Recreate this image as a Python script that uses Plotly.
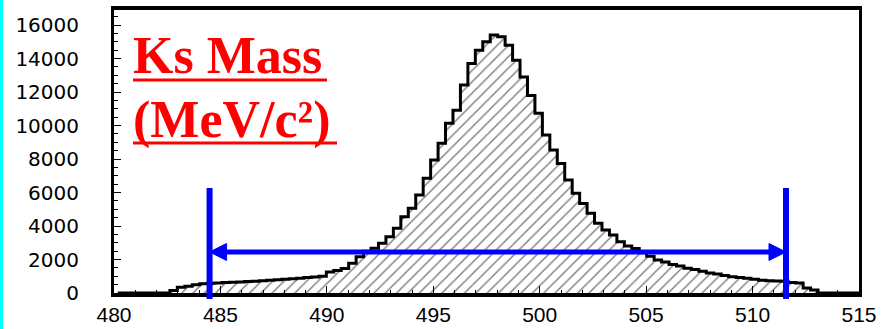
import plotly.graph_objects as go

# ---- data -------------------------------------------------------------
bin_width = 0.35
first_edge = 480.175
counts = [
    0, 0, 0, 0, 0, 0, 0, 150, 350, 400,            # 0-9
    500, 550, 580, 600, 620, 640, 660, 680, 700, 730,  # 10-19
    760, 790, 820, 850, 880, 920, 960, 1000, 1250, 1350,  # 20-29
    1470, 1770, 2170, 2500, 2670, 2970, 3360, 3860, 4560, 5060,  # 30-39
    5850, 6850, 7940, 8940, 10130, 10920, 12420, 13710, 14500, 15000,  # 40-49
    15400, 15300, 14800, 13900, 12900, 11800, 10730, 9430, 8540, 7740,  # 50-59
    6750, 5950, 5350, 4760, 4160, 3760, 3460, 3060, 2800, 2650,  # 60-69
    2400, 2200, 1970, 1850, 1700, 1610, 1480, 1410, 1300, 1200,  # 70-79
    1130, 1050, 970, 930, 880, 820, 760, 735, 720, 700,  # 80-89
    620, 600, 300, 180, 0, 0, 0, 0, 0, 0,  # 90-99
]
x_ticks = [480, 485, 490, 495, 500, 505, 510, 515]
y_ticks = [0, 2000, 4000, 6000, 8000, 10000, 12000, 14000, 16000]
cut_low = 484.49
cut_high = 511.57
arrow_level = 2450
cut_top = 6270
y_max = 16900

edges = [first_edge + bin_width * i for i in range(len(counts) + 1)]
xs = edges
ys = counts + [counts[-1]]

# ---- layout geometry (pixels) -----------------------------------------
W, H = 882, 329
L, R, T, B = 114, 859, 10, 293
PW, PH = R - L, B - T


def px(x):
    return (x - L) / PW


def py(y):
    return (B - y) / PH


# arrow head size in data units (17 px long, 17 px tall)
head_len = 17 * (515 - 480) / PW
head_half = 8.5 * y_max / PH

fig = go.Figure()
fig.add_trace(go.Scatter(
    x=xs, y=ys, mode="lines", line=dict(shape="hv", color="black", width=3),
    fill="tozeroy", fillcolor="white",
    fillpattern=dict(shape="/", fgcolor="black", bgcolor="white", size=8, solidity=0.18),
    hoverinfo="skip", showlegend=False,
))

BLUE = "#0000ff"
shapes = []
# blue cut lines
for c in (cut_low, cut_high):
    shapes.append(dict(type="line", xref="x", yref="paper", x0=c, x1=c,
                       y0=py(299), y1=cut_top / y_max, line=dict(color=BLUE, width=6)))
# horizontal bar
shapes.append(dict(type="line", xref="x", yref="y", x0=cut_low + head_len * 0.5,
                   x1=cut_high - head_len * 0.5, y0=arrow_level, y1=arrow_level,
                   line=dict(color=BLUE, width=5)))
# arrow heads (pointing outward, tips on the cut lines)
for tip, d in ((cut_low, 1), (cut_high, -1)):
    base = tip + d * head_len
    shapes.append(dict(type="path", xref="x", yref="y",
                       path=f"M {tip} {arrow_level} L {base} {arrow_level + head_half} "
                            f"L {base} {arrow_level - head_half} Z",
                       fillcolor=BLUE, line=dict(color=BLUE, width=1)))
# underlines for the title text
shapes.append(dict(type="line", xref="paper", yref="paper", x0=px(133), x1=px(327),
                   y0=py(80), y1=py(80), line=dict(color="#ff0000", width=3)))
shapes.append(dict(type="line", xref="paper", yref="paper", x0=px(133), x1=px(337),
                   y0=py(143), y1=py(143), line=dict(color="#ff0000", width=3)))
# cyan strip on the left edge
shapes.append(dict(type="rect", xref="paper", yref="paper", x0=px(0), x1=px(3),
                   y0=py(H), y1=py(0), line=dict(width=0), fillcolor="#00ffff"))

annotations = [
    dict(x=px(131), y=py(55), xref="paper", yref="paper", xanchor="left", yanchor="middle",
         text="<b>Ks Mass</b>", showarrow=False,
         font=dict(family="Liberation Serif", size=52, color="#ff0000")),
    dict(x=px(131), y=py(120), xref="paper", yref="paper", xanchor="left", yanchor="middle",
         text="<b>(MeV/c²)</b>", showarrow=False,
         font=dict(family="Liberation Serif", size=52, color="#ff0000")),
]

fig.update_layout(
    width=W, height=H,
    margin=dict(l=L, r=W - R, t=T, b=H - B, pad=0),
    paper_bgcolor="white", plot_bgcolor="white",
    shapes=shapes, annotations=annotations,
    xaxis=dict(range=[480, 515], tickvals=x_ticks, ticktext=[str(v) for v in x_ticks],
               ticks="inside", ticklen=7, tickwidth=1, tickcolor="black",
               minor=dict(dtick=1, ticks="inside", ticklen=3, tickcolor="black"),
               showline=True, linewidth=4, linecolor="black", mirror=True,
               showgrid=False, zeroline=False, automargin=False,
               tickfont=dict(family="Liberation Sans", size=21, color="black"),
               ticklabelstandoff=0),
    yaxis=dict(range=[0, y_max], tickvals=y_ticks, ticktext=[str(v) for v in y_ticks],
               ticks="inside", ticklen=7, tickwidth=1, tickcolor="black",
               minor=dict(dtick=500, ticks="inside", ticklen=4, tickcolor="black"),
               showline=True, linewidth=3, linecolor="black", mirror=True,
               showgrid=False, zeroline=False, automargin=False,
               tickfont=dict(family="DejaVu Sans", size=20, color="black"),
               ticklabelstandoff=28),
)

fig.write_html("out.html")
